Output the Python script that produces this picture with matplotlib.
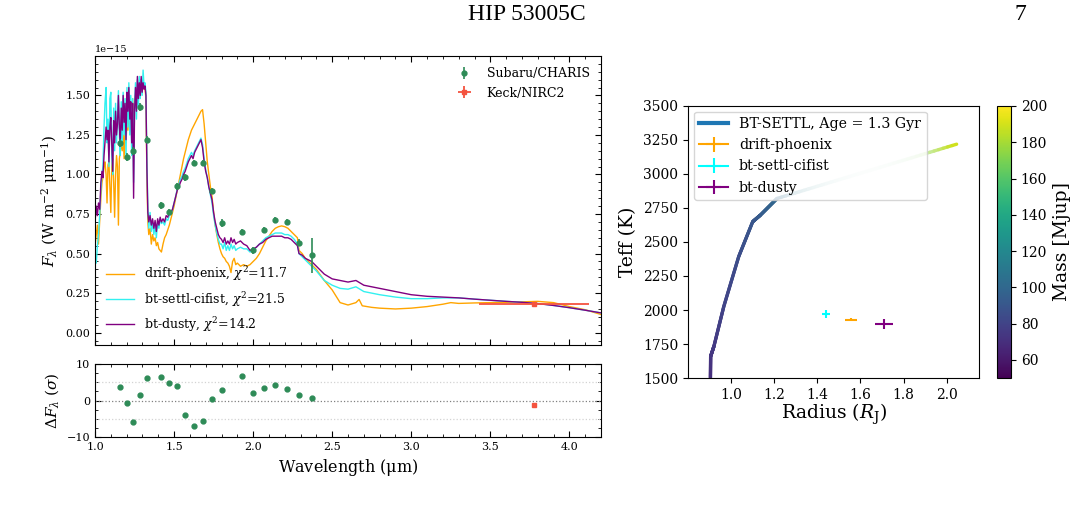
import numpy as np
import matplotlib
matplotlib.use("Agg")
import matplotlib.pyplot as plt
from matplotlib.collections import LineCollection
from matplotlib.lines import Line2D
from matplotlib.ticker import MultipleLocator
import matplotlib.colors as mcolors

plt.rcParams['font.family'] = ['DejaVu Serif']
plt.rcParams['mathtext.fontset'] = 'dejavuserif'

# ---------------- data: spectra (flux in 1e-15 W m^-2 um^-1) ----------------
wl_phoenix = [1.000, 1.008, 1.015, 1.022, 1.030, 1.037, 1.044, 1.050, 1.057, 1.063, 1.070, 1.076, 1.082, 1.088,
              1.094, 1.100, 1.106, 1.112, 1.118, 1.124, 1.130, 1.136, 1.142, 1.148, 1.154, 1.160, 1.166, 1.172,
              1.178, 1.184, 1.190, 1.196, 1.202, 1.208, 1.214, 1.220, 1.226, 1.232, 1.238, 1.244, 1.250, 1.256,
              1.262, 1.268, 1.274, 1.280, 1.286, 1.292, 1.298, 1.304, 1.310, 1.316, 1.322, 1.328, 1.334, 1.340,
              1.348, 1.356, 1.364, 1.372, 1.380, 1.388, 1.396, 1.404, 1.412, 1.420, 1.430, 1.440, 1.450, 1.460,
              1.470, 1.480, 1.490, 1.500, 1.510, 1.520, 1.530, 1.540, 1.550, 1.560, 1.570, 1.580, 1.590, 1.600,
              1.610, 1.620, 1.630, 1.640, 1.650, 1.660, 1.670, 1.680, 1.690, 1.700, 1.710, 1.720, 1.730, 1.740,
              1.750, 1.760, 1.770, 1.780, 1.790, 1.800, 1.810, 1.820, 1.830, 1.840, 1.850, 1.860, 1.870, 1.880,
              1.890, 1.900, 1.920, 1.940, 1.960, 1.980, 2.000, 2.020, 2.040, 2.060, 2.080, 2.100, 2.120, 2.140,
              2.160, 2.180, 2.200, 2.220, 2.240, 2.260, 2.280, 2.290, 2.310, 2.330, 2.350, 2.370, 2.400, 2.450,
              2.500, 2.550, 2.600, 2.650, 2.670, 2.690, 2.750, 2.800, 2.900, 3.000, 3.100, 3.200, 3.250, 3.300,
              3.400, 3.500, 3.600, 3.700, 3.800, 3.900, 4.000, 4.100, 4.200]
fl_phoenix = [0.55, 0.62, 0.68, 0.56, 0.72, 0.85, 0.95, 0.98, 1.05, 1.08, 1.00, 0.82, 1.06, 1.08,
              0.92, 0.76, 1.05, 1.10, 0.95, 0.73, 1.00, 1.12, 1.05, 0.68, 1.10, 1.15, 1.20, 1.15,
              1.25, 1.10, 1.30, 1.20, 1.35, 1.28, 1.40, 1.30, 1.45, 1.38, 1.48, 1.30, 1.45, 1.50,
              1.42, 1.52, 1.48, 1.55, 1.52, 1.58, 1.55, 1.57, 1.54, 1.55, 1.48, 1.00, 0.70, 0.62,
              0.66, 0.56, 0.62, 0.58, 0.60, 0.55, 0.57, 0.53, 0.52, 0.51, 0.56, 0.60, 0.62, 0.65,
              0.68, 0.72, 0.76, 0.80, 0.85, 0.90, 0.95, 1.00, 1.05, 1.10, 1.14, 1.18, 1.22, 1.25,
              1.28, 1.30, 1.32, 1.34, 1.36, 1.38, 1.40, 1.41, 1.32, 1.20, 1.08, 1.00, 0.92, 0.86,
              0.76, 0.68, 0.62, 0.57, 0.53, 0.50, 0.48, 0.47, 0.45, 0.44, 0.42, 0.38, 0.45, 0.47,
              0.43, 0.44, 0.42, 0.43, 0.42, 0.43, 0.45, 0.47, 0.50, 0.54, 0.58, 0.61, 0.64, 0.66,
              0.67, 0.675, 0.67, 0.66, 0.64, 0.62, 0.60, 0.52, 0.50, 0.47, 0.45, 0.43, 0.40, 0.33,
              0.27, 0.19, 0.175, 0.19, 0.21, 0.17, 0.16, 0.155, 0.15, 0.155, 0.165, 0.18, 0.19, 0.185,
              0.188, 0.19, 0.192, 0.195, 0.198, 0.19, 0.165, 0.145, 0.115]

wl_model = [1.000, 1.008, 1.015, 1.022, 1.030, 1.037, 1.044, 1.050, 1.057, 1.063, 1.070, 1.076, 1.082, 1.088,
            1.094, 1.100, 1.106, 1.112, 1.118, 1.124, 1.130, 1.136, 1.142, 1.148, 1.154, 1.160, 1.166, 1.172,
            1.178, 1.184, 1.190, 1.196, 1.202, 1.208, 1.214, 1.220, 1.226, 1.232, 1.238, 1.244, 1.250, 1.256,
            1.262, 1.268, 1.274, 1.280, 1.286, 1.292, 1.298, 1.304, 1.310, 1.316, 1.322, 1.328, 1.334, 1.340,
            1.348, 1.356, 1.364, 1.372, 1.380, 1.388, 1.396, 1.404, 1.412, 1.420, 1.430, 1.440, 1.450, 1.460,
            1.470, 1.480, 1.490, 1.500, 1.510, 1.520, 1.530, 1.540, 1.550, 1.560, 1.570, 1.580, 1.590, 1.600,
            1.610, 1.620, 1.630, 1.640, 1.650, 1.660, 1.670, 1.680, 1.690, 1.700, 1.710, 1.720, 1.730, 1.740,
            1.750, 1.760, 1.770, 1.780, 1.790, 1.800, 1.810, 1.820, 1.830, 1.840, 1.850, 1.860, 1.870, 1.880,
            1.890, 1.900, 1.920, 1.940, 1.960, 1.980, 2.000, 2.020, 2.040, 2.060, 2.080, 2.100, 2.120, 2.140,
            2.160, 2.180, 2.200, 2.220, 2.240, 2.260, 2.280, 2.290, 2.310, 2.330, 2.350, 2.370, 2.400, 2.450,
            2.500, 2.550, 2.600, 2.650, 2.700, 2.750, 2.800, 2.900, 3.000, 3.100, 3.200, 3.300, 3.400, 3.500,
            3.600, 3.700, 3.800, 3.900, 4.000, 4.100, 4.200]
fl_settl = [0.48, 0.44, 0.55, 0.62, 0.75, 0.90, 1.00, 1.05, 1.30, 1.45, 1.55, 1.20, 1.35, 1.05,
            1.48, 1.52, 1.12, 1.00, 1.42, 1.15, 1.45, 1.20, 1.38, 1.53, 1.25, 1.12, 1.46, 1.18,
            1.52, 1.25, 1.48, 1.10, 1.55, 1.30, 1.58, 1.25, 1.50, 1.12, 1.48, 0.95, 1.42, 1.58,
            1.35, 1.60, 1.42, 1.62, 1.48, 1.60, 1.50, 1.66, 1.56, 1.58, 1.52, 1.10, 0.80, 0.66,
            0.76, 0.64, 0.70, 0.62, 0.68, 0.60, 0.70, 0.66, 0.72, 0.69, 0.70, 0.68, 0.72, 0.71,
            0.74, 0.75, 0.78, 0.82, 0.86, 0.91, 0.94, 0.97, 0.99, 1.02, 1.04, 1.07, 1.10, 1.12,
            1.14, 1.12, 1.15, 1.17, 1.19, 1.21, 1.23, 1.19, 1.10, 1.03, 0.98, 0.92, 0.87, 0.82,
            0.74, 0.68, 0.63, 0.59, 0.56, 0.56, 0.53, 0.57, 0.52, 0.55, 0.52, 0.56, 0.53, 0.55,
            0.52, 0.53, 0.54, 0.53, 0.53, 0.51, 0.52, 0.54, 0.56, 0.58, 0.60, 0.61, 0.62, 0.63,
            0.63, 0.63, 0.62, 0.62, 0.61, 0.59, 0.56, 0.50, 0.48, 0.46, 0.44, 0.42, 0.39, 0.33,
            0.30, 0.28, 0.275, 0.29, 0.26, 0.25, 0.24, 0.225, 0.215, 0.215, 0.22, 0.22, 0.212, 0.205,
            0.198, 0.192, 0.184, 0.172, 0.158, 0.142, 0.125]
fl_dusty = [0.70, 0.80, 0.74, 0.82, 0.78, 0.95, 1.02, 0.98, 1.12, 1.20, 1.30, 1.22, 1.28, 1.08,
            1.30, 1.36, 1.18, 1.02, 1.34, 1.20, 1.40, 1.25, 1.32, 1.50, 1.30, 1.22, 1.42, 1.28,
            1.50, 1.33, 1.45, 1.22, 1.52, 1.40, 1.55, 1.35, 1.46, 1.20, 1.45, 0.85, 1.40, 1.55,
            1.40, 1.62, 1.48, 1.58, 1.50, 1.62, 1.52, 1.58, 1.54, 1.56, 1.50, 1.05, 0.76, 0.70,
            0.74, 0.68, 0.72, 0.66, 0.71, 0.64, 0.72, 0.68, 0.73, 0.70, 0.72, 0.70, 0.74, 0.73,
            0.76, 0.76, 0.78, 0.82, 0.86, 0.90, 0.92, 0.95, 0.97, 1.00, 1.02, 1.05, 1.08, 1.10,
            1.12, 1.10, 1.14, 1.16, 1.18, 1.20, 1.22, 1.17, 1.08, 1.02, 0.98, 0.92, 0.88, 0.84,
            0.76, 0.70, 0.66, 0.62, 0.60, 0.59, 0.57, 0.60, 0.56, 0.58, 0.56, 0.60, 0.57, 0.59,
            0.56, 0.57, 0.58, 0.56, 0.55, 0.52, 0.53, 0.54, 0.56, 0.57, 0.59, 0.60, 0.61, 0.61,
            0.61, 0.61, 0.60, 0.60, 0.59, 0.57, 0.55, 0.50, 0.49, 0.47, 0.46, 0.45, 0.42, 0.37,
            0.34, 0.33, 0.32, 0.33, 0.30, 0.29, 0.28, 0.26, 0.24, 0.23, 0.225, 0.22, 0.212, 0.205,
            0.198, 0.192, 0.184, 0.172, 0.158, 0.142, 0.125]

# CHARIS photometry
charis_wl = [1.158, 1.200, 1.240, 1.285, 1.329, 1.420, 1.468, 1.520, 1.572, 1.628,
             1.683, 1.742, 1.804, 1.932, 1.996, 2.070, 2.137, 2.213, 2.290, 2.370]
charis_fl = [1.20, 1.11, 1.147, 1.426, 1.221, 0.807, 0.763, 0.925, 0.982, 1.071,
             1.071, 0.894, 0.693, 0.636, 0.520, 0.651, 0.714, 0.701, 0.570, 0.488]
charis_err = [0.025, 0.025, 0.025, 0.025, 0.02, 0.022, 0.02, 0.02, 0.02, 0.02,
              0.02, 0.02, 0.025, 0.02, 0.02, 0.02, 0.02, 0.02, 0.025, 0.11]
charis_res = [3.6, -0.7, -6.0, 1.4, 6.1, 6.5, 4.9, 4.0, -4.1, -7.0,
              -5.5, 0.4, 3.0, 6.8, 2.0, 3.4, 4.35, 3.2, 1.4, 0.65]

# Keck/NIRC2
keck_wl = [3.776]
keck_fl = [0.179]
keck_xerr = [0.35]
keck_yerr = [0.008]
keck_res = [-1.1]

# ---------------- data: isochrone & fits ----------------
iso_radius = [0.904, 0.905, 0.920, 0.966, 1.035, 1.100, 1.136, 1.213, 2.046]
iso_teff = [1500, 1659, 1732, 2026, 2392, 2649, 2698, 2820, 3219]
iso_mass = [70, 73, 75, 80, 85, 90, 93, 100, 190]

fit_names = ['drift-phoenix', 'bt-settl-cifist', 'bt-dusty']
fit_radius = [1.556, 1.441, 1.711]
fit_radius_err = [0.029, 0.018, 0.042]
fit_teff = [1928, 1972, 1896]
fit_teff_err = [10, 30, 38]
fit_colors = ['orange', 'cyan', 'purple']

# ---------------- figure ----------------
fig = plt.figure(figsize=(10.70, 5.07), dpi=100)

fig.text(0.4925, 0.972, 'HIP 53005C', fontfamily='Liberation Serif', fontsize=17,
         ha='center', va='center')
fig.text(0.954, 0.972, '7', fontfamily='Liberation Serif', fontsize=17, ha='center', va='center')

# main spectrum axes
ax = fig.add_axes([0.0888, 0.3195, 0.4729, 0.570])
axr = fig.add_axes([0.0888, 0.138, 0.4729, 0.144], sharex=ax)

scale = 1e-15
l1, = ax.plot(wl_phoenix, np.array(fl_phoenix) * scale, color='orange', lw=1.0,
              label=r'drift-phoenix, $\chi^2$=11.7')
l2, = ax.plot(wl_model, np.array(fl_settl) * scale, color='#33f0f0', lw=1.0,
              label=r'bt-settl-cifist, $\chi^2$=21.5')
l3, = ax.plot(wl_model, np.array(fl_dusty) * scale, color='purple', lw=1.0,
              label=r'bt-dusty, $\chi^2$=14.2')
e1 = ax.errorbar(charis_wl, np.array(charis_fl) * scale, yerr=np.array(charis_err) * scale,
                 fmt='o', ms=3.5, color='seagreen', elinewidth=1.2, label='Subaru/CHARIS', zorder=5)
e2 = ax.errorbar(keck_wl, np.array(keck_fl) * scale, xerr=keck_xerr, yerr=np.array(keck_yerr) * scale,
                 fmt='s', ms=3.5, color='#f4533f', elinewidth=1.3, label='Keck/NIRC2', zorder=5)

leg1 = ax.legend(handles=[l1, l2, l3], loc='lower left', frameon=False, fontsize=9,
                 bbox_to_anchor=(0.0, 0.0), handlelength=2.2)
ax.add_artist(leg1)
ax.legend(handles=[e1, e2], loc='upper right', frameon=False, fontsize=9)

ax.set_xlim(1.0, 4.2)
ax.set_ylim(-0.078e-15, 1.749e-15)
ax.yaxis.set_major_locator(MultipleLocator(0.25e-15))
ax.yaxis.set_minor_locator(MultipleLocator(0.05e-15))
ax.xaxis.set_major_locator(MultipleLocator(0.5))
ax.xaxis.set_minor_locator(MultipleLocator(0.1))
ax.tick_params(which='both', direction='in', top=True, right=True, labelsize=8)
ax.tick_params(which='major', length=4)
ax.tick_params(which='minor', length=2)
plt.setp(ax.get_xticklabels(), visible=False)
ax.yaxis.get_offset_text().set_fontsize(7)
ax.set_ylabel(r'$F_\lambda$ (W m$^{-2}$ $\mathrm{\mu}$m$^{-1}$)', fontsize=11)

# residuals
axr.axhline(0, color='gray', ls=':', lw=0.9)
axr.axhline(5, color='lightgray', ls=':', lw=0.9)
axr.axhline(-5, color='lightgray', ls=':', lw=0.9)
axr.plot(charis_wl, charis_res, 'o', ms=3.5, color='seagreen')
axr.plot(keck_wl, keck_res, 's', ms=3.5, color='#f4533f')
axr.set_ylim(-10, 10)
axr.set_yticks([-10, 0, 10])
axr.yaxis.set_minor_locator(MultipleLocator(2.5))
axr.tick_params(which='both', direction='in', top=True, right=True, labelsize=8)
axr.tick_params(which='major', length=4)
axr.tick_params(which='minor', length=2)
axr.set_xlabel(r'Wavelength ($\mathrm{\mu}$m)', fontsize=11.5)
axr.set_ylabel(r'$\Delta F_\lambda$ ($\sigma$)', fontsize=11)

# ---------------- right panel ----------------
axh = fig.add_axes([0.643, 0.2544, 0.272, 0.5366])
cmap = plt.get_cmap('viridis')
norm = mcolors.Normalize(vmin=50, vmax=200)

# draw the isochrone as a colour-graded line (each data segment subdivided for the gradient)
segs = []
cols = []
nsub = 40
for i in range(len(iso_radius) - 1):
    long_seg = (i == len(iso_radius) - 2)
    for k in range(nsub):
        t0 = k / nsub
        t1 = (k + 1) / nsub
        x0 = iso_radius[i] + (iso_radius[i + 1] - iso_radius[i]) * t0
        x1 = iso_radius[i] + (iso_radius[i + 1] - iso_radius[i]) * t1
        y0 = iso_teff[i] + (iso_teff[i + 1] - iso_teff[i]) * t0
        y1 = iso_teff[i] + (iso_teff[i + 1] - iso_teff[i]) * t1
        tm = 0.5 * (t0 + t1)
        m = iso_mass[i] + (iso_mass[i + 1] - iso_mass[i]) * tm
        c = np.array(cmap(norm(m)))
        if long_seg:
            u = (tm - 0.5) / 0.47
            w = 0.92 * max(0.0, 1 - u * u) ** 0.8
            c[:3] = c[:3] * (1 - w) + w
        segs.append([(x0, y0), (x1, y1)])
        cols.append(c)
lc = LineCollection(segs, colors=cols, linewidths=2.4, capstyle='round')
axh.add_collection(lc)

handles = [Line2D([0], [0], color='#1f77b4', lw=3, label='BT-SETTL, Age = 1.3 Gyr')]
for n, r, re, t, te, c in zip(fit_names, fit_radius, fit_radius_err, fit_teff, fit_teff_err, fit_colors):
    h = axh.errorbar([r], [t], xerr=[re], yerr=[te], color=c, lw=1.5, label=n)
    handles.append(h)
axh.legend(handles=handles, loc='upper left', fontsize=10.2, borderaxespad=0.4)

axh.set_xlim(0.80, 2.15)
axh.set_ylim(1500, 3500)
axh.set_xticks([1.0, 1.2, 1.4, 1.6, 1.8, 2.0])
axh.set_yticks(np.arange(1500, 3501, 250))
axh.tick_params(labelsize=10)
axh.set_xlabel(r'Radius ($R_{\rm J}$)', fontsize=13.5, labelpad=0)
axh.set_ylabel('Teff (K)', fontsize=13.5)

cax = fig.add_axes([0.9318, 0.2544, 0.0131, 0.5366])
sm = plt.cm.ScalarMappable(norm=norm, cmap=cmap)
cb = fig.colorbar(sm, cax=cax)
cb.set_ticks([60, 80, 100, 120, 140, 160, 180, 200])
cb.ax.tick_params(labelsize=10)
cb.set_label('Mass [Mjup]', fontsize=13.5)

fig.savefig('out.png', dpi=100)
